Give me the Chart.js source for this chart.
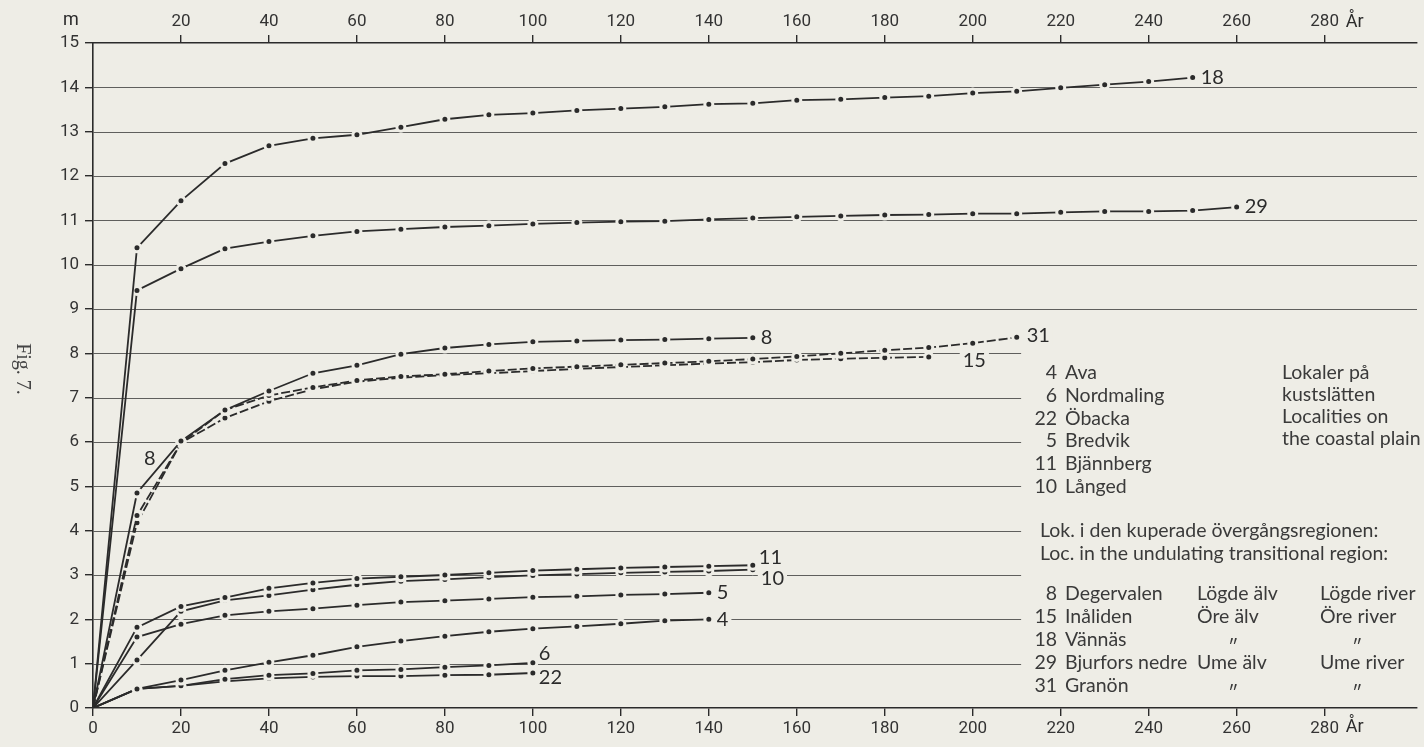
<!DOCTYPE html>
<html><head><meta charset="utf-8">
<script src="https://cdn.jsdelivr.net/npm/chart.js@4"></script>
<style>
html,body{margin:0;padding:0;background:#eeede6;}
#wrap{width:1424px;height:747px;position:relative;}
canvas{display:block;}
</style>
</head><body>
<div id="wrap"><canvas id="c" width="1424" height="747"></canvas></div>
<script>
// ---------- data ----------
const years = [0,10,20,30,40,50,60,70,80,90,100,110,120,130,140,150,160,170,180,190,200,210,220,230,240,250,260];
const seriesIds = ['18','29','8','31','15','11','10','5','4','6','22'];
const s18 = [0,10.38,11.44,12.28,12.68,12.85,12.93,13.10,13.28,13.38,13.42,13.48,13.52,13.56,13.62,13.64,13.71,13.73,13.77,13.80,13.87,13.91,13.99,14.06,14.13,14.22];
const s29 = [0,9.42,9.91,10.36,10.52,10.65,10.75,10.80,10.85,10.88,10.92,10.95,10.97,10.98,11.02,11.05,11.08,11.10,11.12,11.13,11.15,11.15,11.18,11.20,11.20,11.22,11.30];
const s8  = [0,4.85,6.02,6.72,7.15,7.55,7.73,7.98,8.12,8.20,8.26,8.28,8.30,8.31,8.33,8.35];
const s31 = [0,4.34,5.98,6.72,7.05,7.23,7.39,7.48,7.53,7.60,7.66,7.70,7.74,7.78,7.82,7.87,7.93,8.00,8.07,8.13,8.23,8.36];
const s15 = [0,4.18,5.98,6.54,6.92,7.19,7.36,7.45,7.51,7.55,7.60,7.65,7.69,7.73,7.77,7.80,7.85,7.88,7.90,7.92];
const s11 = [0,1.82,2.29,2.49,2.70,2.82,2.92,2.96,3.00,3.05,3.10,3.13,3.16,3.18,3.20,3.22];
const s10 = [0,1.08,2.18,2.43,2.54,2.67,2.78,2.86,2.90,2.95,2.99,3.02,3.05,3.07,3.09,3.12];
const s5  = [0,1.60,1.89,2.09,2.18,2.24,2.32,2.39,2.42,2.46,2.50,2.52,2.55,2.57,2.60];
const s4  = [0,0.43,0.63,0.85,1.03,1.19,1.38,1.51,1.62,1.72,1.79,1.84,1.90,1.97,2.00];
const s6  = [0,0.43,0.50,0.65,0.74,0.78,0.85,0.87,0.92,0.96,1.02];
const s22 = [0,0.43,0.50,0.60,0.67,0.70,0.72,0.72,0.74,0.75,0.79];
const seriesValues = [s18,s29,s8,s31,s15,s11,s10,s5,s4,s6,s22];
const dashedIds = ['31','15'];

const xTicksBottom = [0,20,40,60,80,100,120,140,160,180,200,220,240,260,280];
const xTicksTop = [20,40,60,80,100,120,140,160,180,200,220,240,260,280];
const yTicks = [0,1,2,3,4,5,6,7,8,9,10,11,12,13,14,15];
const xUnit = 'År';
const yUnit = 'm';
const figLabel = 'Fig. 7.';

const coastalNums = ['4','6','22','5','11','10'];
const coastalNames = ['Ava','Nordmaling','Öbacka','Bredvik','Bjännberg','Långed'];
const coastalNote = ['Lokaler på','kustslätten','Localities on','the coastal plain'];
const transHead = ['Lok. i den kuperade övergångsregionen:','Loc. in the undulating transitional region:'];
const transNums = ['8','15','18','29','31'];
const transNames = ['Degervalen','Inåliden','Vännäs','Bjurfors nedre','Granön'];
const transRiverSv = ['Lögde älv','Öre älv','″','Ume älv','″'];
const transRiverEn = ['Lögde river','Öre river','″','Ume river','″'];

// ---------- styles ----------
const BG = '#eeede6';
const INK = '#2b2b2b';
const GRID = '#5f5f5d';
const axisFont = {family:'Roboto, "DejaVu Sans", sans-serif', size:17};
const legendFamily = 'Lato, "Open Sans", sans-serif';

const datasets = seriesIds.map((id,i)=>({
  label:id,
  data: seriesValues[i].map((v,j)=>({x:years[j], y:v})),
  borderColor: INK,
  borderWidth: 1.8,
  borderDash: dashedIds.includes(id) ? [9,3] : [],
  tension: 0,
  fill:false,
  pointRadius: c => c.dataIndex === 0 ? 0 : 4,
  pointBackgroundColor: INK,
  pointBorderColor: BG,
  pointBorderWidth: 3,
  pointHoverRadius: 0
}));

const bgPlugin = {
  id:'bg',
  beforeDraw(chart){
    const ctx = chart.ctx;
    ctx.save(); ctx.fillStyle = BG; ctx.fillRect(0,0,chart.width,chart.height); ctx.restore();
  }
};

const gridPlugin = {
  id:'gridlines',
  beforeDatasetsDraw(chart){
    const {ctx, chartArea, scales:{x,y}} = chart;
    ctx.save();
    ctx.strokeStyle = GRID; ctx.lineWidth = 1.2;
    yTicks.forEach(v=>{
      if (v === 0 || v === 15) return;
      const py = Math.round(y.getPixelForValue(v)) + 0.5;
      const xEnd = v <= 8 ? x.getPixelForValue(211) : chartArea.right;
      ctx.beginPath(); ctx.moveTo(chartArea.left, py); ctx.lineTo(xEnd, py); ctx.stroke();
    });
    ctx.restore();
  }
};

const labelOffsets = {'18':[8,0],'29':[8,0],'8':[8,0],'31':[10,-2],'15':[34,4],'11':[6,-8],'10':[8,9],'5':[8,0],'4':[8,0],'6':[6,-9],'22':[6,5]};

const textPlugin = {
  id:'texts',
  afterDatasetsDraw(chart){
    const {ctx, scales:{x,y}} = chart;
    ctx.save();
    // series end labels
    ctx.font = '20px ' + legendFamily;
    ctx.textBaseline = 'middle';
    ctx.textAlign = 'left';
    chart.data.datasets.forEach((ds,i)=>{
      const meta = chart.getDatasetMeta(i);
      const last = meta.data[meta.data.length-1];
      const off = labelOffsets[ds.label] || [8,0];
      const tx = last.x + off[0], ty = last.y + off[1];
      const w = ctx.measureText(ds.label).width;
      ctx.fillStyle = BG; ctx.fillRect(tx-3, ty-9, w+6, 18);
      ctx.fillStyle = INK; ctx.fillText(ds.label, tx, ty);
    });
    // extra "8" near the start of curve 8
    ctx.fillStyle = INK;
    ctx.fillText('8', x.getPixelForValue(11.6), y.getPixelForValue(5.62));

    // axis units
    ctx.font = '18px ' + axisFont.family;
    ctx.textAlign = 'center';
    ctx.fillText(yUnit, 71, 20);
    ctx.fillText(xUnit, x.getPixelForValue(280) + 30, 727);
    ctx.fillText(xUnit, x.getPixelForValue(280) + 30, 22);

    // Fig label rotated
    ctx.save();
    ctx.translate(22, 369);
    ctx.rotate(Math.PI/2);
    ctx.font = '20px "Liberation Serif", "DejaVu Serif", serif';
    ctx.textAlign = 'center';
    ctx.fillStyle = '#444';
    ctx.fillText(figLabel, 0, 0);
    ctx.restore();

    // legend text
    ctx.font = '19.5px ' + legendFamily;
    ctx.fillStyle = '#3a3a3a';
    const numRight = 1057, nameLeft = 1065;
    coastalNums.forEach((n,i)=>{
      const ty = 373 + i*22.7;
      ctx.textAlign = 'right'; ctx.fillText(n, numRight, ty);
      ctx.textAlign = 'left'; ctx.fillText(coastalNames[i], nameLeft, ty);
    });
    ctx.textAlign = 'left';
    coastalNote.forEach((t,i)=> ctx.fillText(t, 1282, 373 + i*22));
    transHead.forEach((t,i)=> ctx.fillText(t, 1040, 531 + i*22.5));
    transNums.forEach((n,i)=>{
      const ty = 594 + i*23;
      ctx.textAlign = 'right'; ctx.fillText(n, numRight, ty);
      ctx.textAlign = 'left'; ctx.fillText(transNames[i], nameLeft, ty);
      if (transRiverSv[i] === '″') { ctx.textAlign='center'; ctx.fillText(transRiverSv[i], 1233, ty+8); }
      else { ctx.textAlign='left'; ctx.fillText(transRiverSv[i], 1197, ty); }
      if (transRiverEn[i] === '″') { ctx.textAlign='center'; ctx.fillText(transRiverEn[i], 1357, ty+8); }
      else { ctx.textAlign='left'; ctx.fillText(transRiverEn[i], 1320, ty); }
    });
    ctx.restore();
  }
};

const axisCommon = {
  type:'linear', min:0, max:301,
  grid:{drawOnChartArea:false, drawTicks:true, tickLength:8, color:INK, lineWidth:1.4},
  border:{display:true, color:INK, width:1.6},
  ticks:{font:axisFont, color:'#333', padding:3, maxRotation:0, autoSkip:false, callback:v=>String(v)}
};

new Chart(document.getElementById('c'), {
  type:'line',
  data:{datasets},
  options:{
    responsive:false, animation:false, devicePixelRatio:1,
    layout:{padding:0},
    plugins:{legend:{display:false}, tooltip:{enabled:false}},
    events:[],
    scales:{
      x: Object.assign({}, axisCommon, {
        position:'bottom',
        afterBuildTicks:s=>{ s.ticks = xTicksBottom.map(v=>({value:v})); },
        afterFit:s=>{ s.height = 39; }
      }),
      x2: Object.assign({}, axisCommon, {
        position:'top',
        afterBuildTicks:s=>{ s.ticks = xTicksTop.map(v=>({value:v})); },
        afterFit:s=>{ s.height = 43; }
      }),
      y: {
        type:'linear', min:0, max:15, position:'left',
        grid:{drawOnChartArea:false, drawTicks:true, tickLength:8, color:INK, lineWidth:1.4},
        border:{display:true, color:INK, width:1.6},
        ticks:{font:axisFont, color:'#333', padding:6, autoSkip:false, callback:v=>String(v)},
        afterBuildTicks:s=>{ s.ticks = yTicks.map(v=>({value:v})); },
        afterFit:s=>{ s.width = 93; }
      }
    }
  },
  plugins:[bgPlugin, gridPlugin, textPlugin]
});
</script>
</body></html>
